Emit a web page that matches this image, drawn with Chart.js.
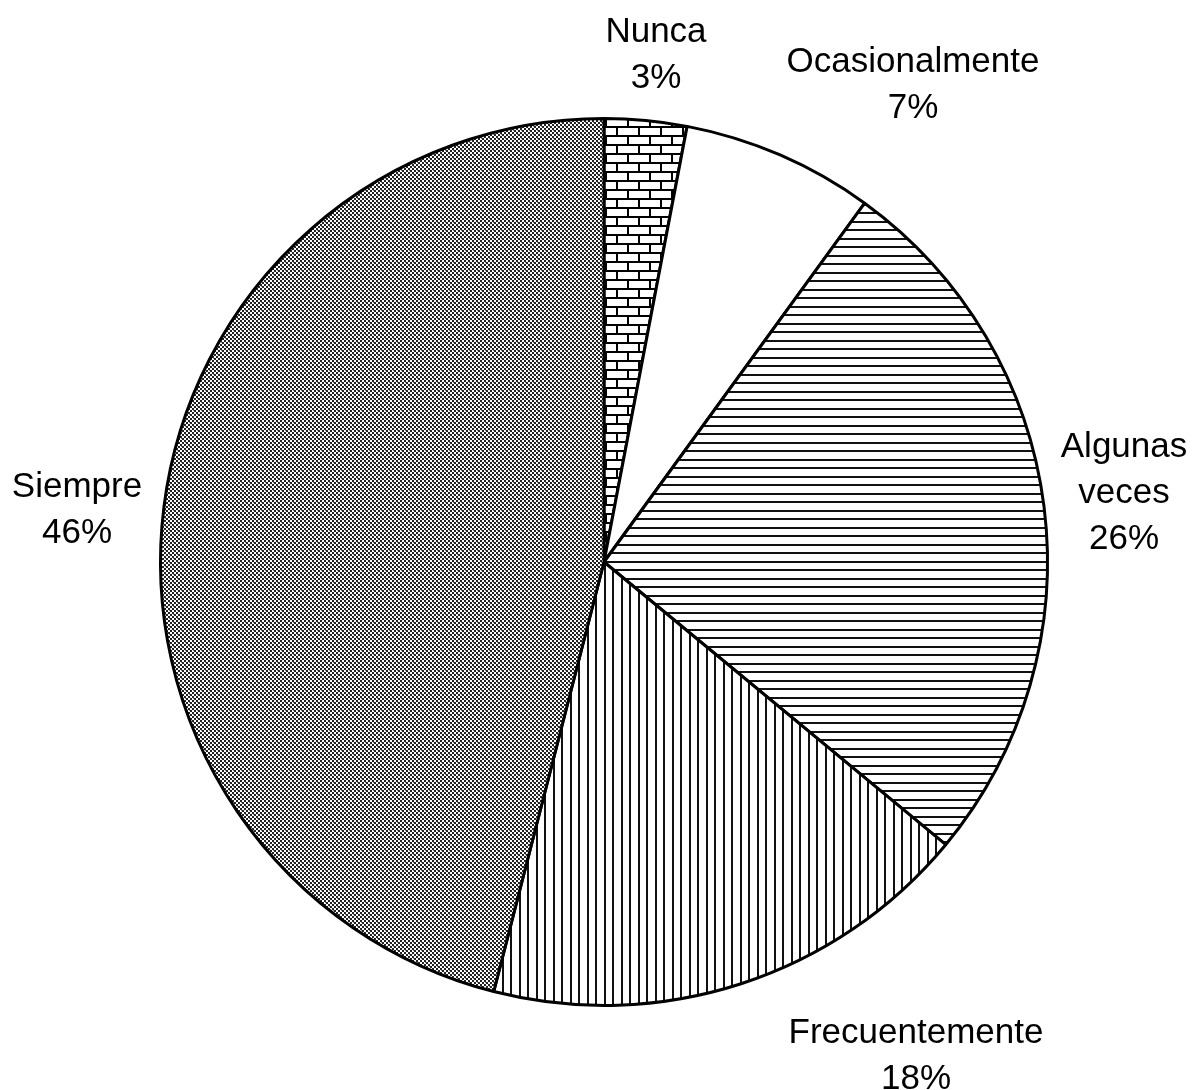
<!DOCTYPE html>
<html>
<head>
<meta charset="utf-8">
<script src="https://cdn.jsdelivr.net/npm/chart.js@4/dist/chart.umd.min.js"></script>
<style>
  html, body { margin: 0; padding: 0; background: #fff; }
  #wrap { width: 1193px; height: 1090px; }
</style>
</head>
<body>
<div id="wrap"><canvas id="c" width="1193" height="1090"></canvas></div>
<script>
// ---- data ----
const categories = ["Nunca", "Ocasionalmente", "Algunas veces", "Frecuentemente", "Siempre"];
const percentages = [3, 7, 26, 18, 46];
const labelLines = [["Nunca", "3%"], ["Ocasionalmente", "7%"], ["Algunas", "veces", "26%"], ["Frecuentemente", "18%"], ["Siempre", "46%"]];

// ---- fill patterns ----
function makeTile(w, h, draw) {
  const c = document.createElement('canvas');
  c.width = w; c.height = h;
  const g = c.getContext('2d');
  g.fillStyle = '#fff'; g.fillRect(0, 0, w, h);
  draw(g);
  return document.getElementById('c').getContext('2d').createPattern(c, 'repeat');
}
const brick = makeTile(22, 18, g => {
  g.fillStyle = '#000';
  g.fillRect(0, 0, 22, 2);
  g.fillRect(0, 9, 22, 2);
  g.fillRect(0, 0, 2, 9);
  g.fillRect(11, 9, 2, 9);
});
const white = '#ffffff';
const hLines = makeTile(8, 17, g => {
  g.fillStyle = '#111';
  g.fillRect(0, 0, 8, 2);
  g.fillRect(0, 8, 8, 2);
});
const vLines = makeTile(17, 8, g => {
  g.fillStyle = '#111';
  g.fillRect(0, 0, 2, 8);
  g.fillRect(9, 0, 2, 8);
});
const stipple = makeTile(8, 8, g => {
  g.fillStyle = '#222';
  g.fillRect(0, 0, 2, 2);
  g.fillRect(4, 0, 2, 2);
  g.fillRect(2, 2, 2, 2);
  g.fillRect(6, 2, 2, 2);
  g.fillRect(0, 4, 2, 2);
  g.fillRect(4, 4, 2, 2);
  g.fillRect(2, 6, 2, 2);
  g.fillRect(6, 6, 2, 2);
  g.fillStyle = '#888';
  g.fillRect(1, 2, 1, 1);
  g.fillRect(5, 6, 1, 1);
});

// ---- label plugin ----
const labelOffsets = [[52, -520], [309, -490], [520, -105], [312, 481], [-527, -65]];
const outsideLabels = {
  id: 'outsideLabels',
  afterDraw(chart) {
    const ctx = chart.ctx;
    const arcs = chart.getDatasetMeta(0).data;
    ctx.save();
    ctx.font = '35px "Liberation Sans", Arial, sans-serif';
    ctx.fillStyle = '#000';
    ctx.textAlign = 'center';
    ctx.textBaseline = 'alphabetic';
    arcs.forEach((arc, i) => {
      const [dx, dy] = labelOffsets[i];
      labelLines[i].forEach((t, j) => {
        ctx.fillText(t, arc.x + dx, arc.y + dy + j * 46);
      });
    });
    ctx.restore();
  }
};

new Chart(document.getElementById('c'), {
  type: 'pie',
  data: {
    labels: categories,
    datasets: [{
      data: percentages,
      backgroundColor: [brick, white, hLines, vLines, stipple],
      borderColor: '#000',
      borderWidth: 3
    }]
  },
  options: {
    responsive: false,
    animation: false,
    events: [],
    layout: { padding: { left: 159, right: 144, top: 117, bottom: 83 } },
    plugins: {
      legend: { display: false },
      tooltip: { enabled: false },
      title: { display: false }
    }
  },
  plugins: [outsideLabels]
});
</script>
</body>
</html>
